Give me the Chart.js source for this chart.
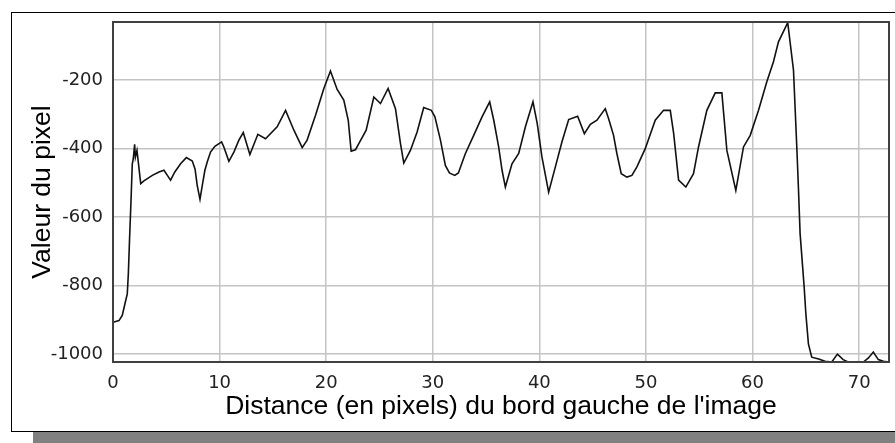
<!DOCTYPE html>
<html>
<head>
<meta charset="utf-8">
<script src="https://cdn.jsdelivr.net/npm/chart.js@4.4.1/dist/chart.umd.min.js"></script>
<style>
  body { margin: 0; background: #fff; }
  canvas { display: block; }
</style>
</head>
<body>
<canvas id="myChart-profile" width="895" height="443"></canvas>
<script>
// distance along the line (pixels) and pixel value
var distance = [
  0, 0.56, 0.87, 1.12, 1.34, 1.44, 1.56, 1.69, 1.81, 1.9, 2.03, 2.1, 2.25, 2.6, 2.9,
  3.69, 4.31, 4.78, 5.1, 5.4, 5.8, 6.34, 6.88, 7.44, 7.7, 7.9, 8.16, 8.35, 8.62, 8.84,
  9.15, 9.56, 10.19, 10.4, 10.87, 11.34, 11.81, 12.22, 12.84, 13.59, 14.31, 15.4, 16.19,
  16.97, 17.75, 18.21, 19.0, 19.78, 20.4, 21.03, 21.65, 22.07, 22.34, 22.75, 23.06, 23.75,
  24.47, 25.09, 25.81, 26.5, 26.97, 27.28, 27.9, 28.53, 29.15, 29.87, 30.2, 30.72, 31.18,
  31.56, 32.06, 32.4, 33.06, 33.84, 34.62, 35.34, 35.72, 36.18, 36.5, 36.81, 37.43, 38.06,
  38.69, 39.4, 39.8, 40.24, 40.87, 41.5, 42.12, 42.75, 43.59, 44.22, 44.78, 45.4, 46.18,
  46.49, 46.96, 47.27, 47.68, 48.21, 48.68, 49.15, 49.93, 50.87, 51.65, 52.28, 52.6, 53.06,
  53.74, 54.46, 54.93, 55.71, 56.5, 57.12, 57.59, 58.43, 59.15, 59.78, 60.56, 61.33, 61.96,
  62.43, 63.3, 63.84, 64.15, 64.3, 64.46, 64.7, 64.84, 65.0, 65.24, 65.55, 66.2, 66.8,
  67.43, 67.96, 68.5, 68.96, 70.4, 70.87, 71.33, 71.8, 72.27, 72.8
];
var pixelValue = [
  -907, -902, -887, -853, -824, -765, -658, -551, -444, -430, -387, -425, -405, -502, -494,
  -478, -468, -463, -478, -492, -468, -444, -426, -436, -460, -507, -548, -512, -463, -439,
  -410, -393, -380, -395, -437, -410, -375, -353, -417, -358, -371, -336, -288,
  -346, -397, -375, -302, -224, -173, -227, -258, -317, -407, -403, -385, -346,
  -249, -268, -224, -283, -385, -442, -405, -351, -280, -288, -307, -375, -449,
  -471, -478, -471, -414, -361, -307, -263, -317, -395, -463, -512, -444, -414,
  -336, -263, -327, -424, -527, -453, -380, -315, -305, -356, -329, -317, -283,
  -312, -361, -414, -473, -483, -478, -453, -400, -317, -288, -288, -356, -492,
  -512, -473, -395, -288, -237, -237, -405, -522, -395, -361, -288, -205, -146,
  -88, -32, -171, -395, -512, -648, -746, -804, -882, -970, -1009, -1014, -1021,
  -1023, -1000, -1016, -1023, -1023, -1011, -994, -1016, -1021, -1023
];
var xTicks = [0, 10, 20, 30, 40, 50, 60, 70];
var yTicks = [-1000, -800, -600, -400, -200];

var frame = {
  id: 'frame',
  beforeDraw: function (chart) {
    var c = chart.ctx;
    c.save();
    c.fillStyle = '#808080';
    c.fillRect(33, 432, 870, 12);
    c.fillStyle = '#ffffff';
    c.fillRect(11, 12, 900, 419);
    c.strokeStyle = '#000';
    c.lineWidth = 1;
    c.strokeRect(11.5, 12.5, 900, 419);
    c.restore();
  },
  afterDatasetsDraw: function (chart) {
    var a = chart.chartArea, c = chart.ctx;
    c.save();
    c.strokeStyle = '#404040';
    c.lineWidth = 2;
    c.strokeRect(a.left, a.top, a.right - a.left, a.bottom - a.top);
    c.restore();
  }
};

var ctx = document.getElementById('myChart-profile');

new Chart(ctx, {
  type: 'scatter',
  data: {
    datasets: [{
      data: distance.map(function (d, i) { return { x: d, y: pixelValue[i] }; }),
      showLine: true,
      borderColor: '#111',
      borderWidth: 1.6,
      pointRadius: 0,
      tension: 0
    }]
  },
  options: {
    responsive: false,
    animation: false,
    layout: { padding: { top: 22, right: 6, left: 0, bottom: 0 } },
    plugins: { legend: { display: false }, tooltip: { enabled: false } },
    scales: {
      x: {
        type: 'linear',
        min: 0,
        max: 72.8,
        afterBuildTicks: function (s) { s.ticks = xTicks.map(function (v) { return { value: v }; }); },
        afterFit: function (s) { s.height = 81; },
        grid: { color: '#c4c4c4', lineWidth: 1.5, drawTicks: false },
        border: { display: false },
        ticks: {
          padding: 11, color: '#222', font: { family: 'DejaVu Sans', size: 18 }, maxRotation: 0,
          callback: function (v) { return String(v); }
        },
        title: {
          display: true,
          text: "Distance (en pixels) du bord gauche de l'image",
          color: '#000',
          font: { family: 'Liberation Sans', size: 26.5 },
          padding: { bottom: 20, top: 0 }
        }
      },
      y: {
        type: 'linear',
        min: -1023,
        max: -30,
        afterBuildTicks: function (s) { s.ticks = yTicks.map(function (v) { return { value: v }; }); },
        afterFit: function (s) { s.width = 113; },
        grid: { color: '#c4c4c4', lineWidth: 1.5, drawTicks: false },
        border: { display: false },
        ticks: {
          padding: 10, color: '#222', font: { family: 'DejaVu Sans', size: 18 },
          callback: function (v) { return String(v); }
        },
        title: {
          display: true,
          text: 'Valeur du pixel',
          color: '#000',
          font: { family: 'Liberation Sans', size: 26.5 },
          padding: { top: 27, bottom: 0 }
        }
      }
    }
  },
  plugins: [frame]
});
</script>
</body>
</html>
